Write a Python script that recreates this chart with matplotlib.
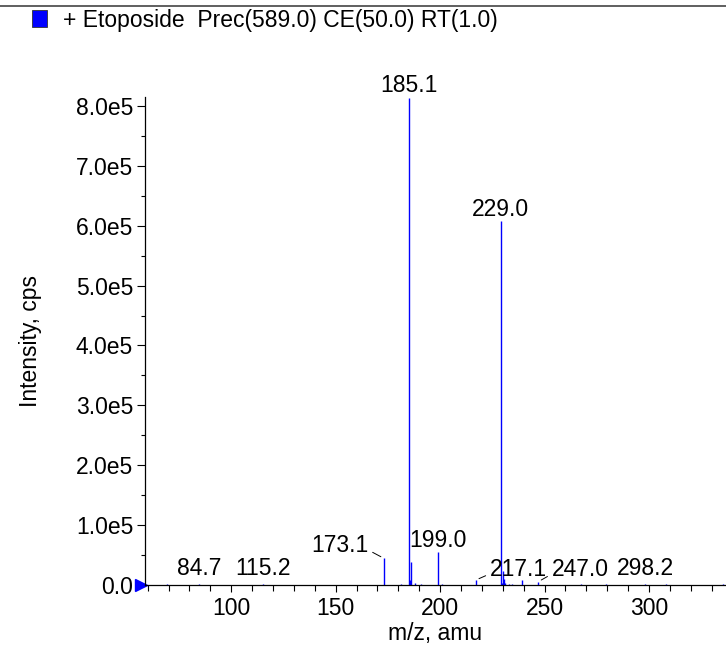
import matplotlib
matplotlib.use("Agg")
import matplotlib.pyplot as plt
from matplotlib.ticker import MultipleLocator, FuncFormatter
from matplotlib.patches import Rectangle
from matplotlib.lines import Line2D
import matplotlib.transforms as mtransforms

plt.rcParams['font.family'] = ['Liberation Sans', 'DejaVu Sans']

# spectrum (m/z, intensity in cps)
mz = [69.3, 84.7, 115.2, 173.1, 181.2, 185.1, 185.6, 186.1, 188.0, 190.8,
      199.0, 201.0, 217.1, 229.0, 229.6, 230.1, 230.6, 231.1, 232.9, 234.4,
      239.1, 247.0, 267.6, 279.6, 298.2, 308.2, 335.5]
intensity = [0.01e5, 0.02e5, 0.02e5, 0.445e5, 0.015e5, 8.14e5, 0.08e5, 0.38e5, 0.04e5, 0.01e5,
             0.545e5, 0.015e5, 0.083e5, 6.08e5, 0.03e5, 0.24e5, 0.10e5, 0.03e5, 0.015e5, 0.015e5,
             0.083e5, 0.055e5, 0.01e5, 0.01e5, 0.02e5, 0.01e5, 0.01e5]

# labelled peaks
label_mz = [84.7, 115.2, 173.1, 185.1, 199.0, 217.1, 229.0, 247.0, 298.2]
label_int = [0.02e5, 0.02e5, 0.445e5, 8.14e5, 0.545e5, 0.083e5, 6.08e5, 0.055e5, 0.02e5]

title = "+ Etoposide  Prec(589.0) CE(50.0) RT(1.0)"

fs = 16.5
fig = plt.figure(figsize=(7.26, 6.47), dpi=100)
ax = fig.add_axes([145/726, 62/647, 581/726, 488/647])

ax.vlines(mz, 0, intensity, color='#0000ff', lw=1.0)

ax.set_xlim(58.7, 336.9)
ax.set_ylim(0, 8.15e5)

for s in ['top', 'right']:
    ax.spines[s].set_visible(False)
for s in ['left', 'bottom']:
    ax.spines[s].set_linewidth(0.9)

ax.xaxis.set_major_locator(MultipleLocator(50))
ax.xaxis.set_minor_locator(MultipleLocator(10))
ax.yaxis.set_major_locator(MultipleLocator(1e5))
ax.yaxis.set_minor_locator(MultipleLocator(0.5e5))
ax.yaxis.set_major_formatter(FuncFormatter(lambda v, p: "0.0" if v == 0 else "%.1fe5" % (v / 1e5)))
ax.tick_params(axis='both', which='major', labelsize=fs, width=0.8)
ax.tick_params(axis='x', which='major', length=5, pad=3.5)
ax.tick_params(axis='x', which='minor', length=4, width=0.8)
ax.tick_params(axis='y', which='major', length=5.5, pad=3)
ax.tick_params(axis='y', which='minor', length=3, width=0.8)

ax.set_xlabel("m/z, amu", fontsize=fs)
ax.set_ylabel("Intensity, cps", fontsize=fs)
ax.xaxis.set_label_coords(0.5, -0.076)
ax.yaxis.set_label_coords(-0.177, 0.5)

# peak labels: (dx, dy) in points from the peak top, alignment, leader line
placement = {
    84.7: (0, 6, 'center', False),
    115.2: (0, 6, 'center', False),
    298.2: (0, 6, 'center', False),
    185.1: (0, 4, 'center', False),
    229.0: (0, 3.5, 'center', False),
    199.0: (0, 4, 'center', False),
    173.1: (-11, 4.5, 'right', True),
    217.1: (10, 3, 'left', True),
    247.0: (9.5, 4, 'left', True),
}
for m, h in zip(label_mz, label_int):
    dx, dy, ha, lead = placement[m]
    if lead:
        ax.annotate("%.1f" % m, xy=(m, h), xytext=(dx, dy), textcoords='offset points',
                    ha=ha, va='baseline', fontsize=fs,
                    arrowprops=dict(arrowstyle='-', color='black', lw=0.7,
                                    shrinkA=1, shrinkB=2.5,
                                    relpos=(1 if ha == 'right' else 0, 0.3)))
    else:
        ax.annotate("%.1f" % m, xy=(m, h), xytext=(dx, dy), textcoords='offset points',
                    ha=ha, va='baseline', fontsize=fs)

# blue origin marker on the y axis
off = mtransforms.ScaledTranslation(-4/100, 0, fig.dpi_scale_trans)
trans = mtransforms.blended_transform_factory(ax.transAxes, ax.transData) + off
ax.plot([0], [0], marker='>', color='#0000ff', markersize=9, transform=trans, clip_on=False)

# header line and legend box
fig.add_artist(Line2D([0, 1], [1 - 6/647, 1 - 6/647], color='#444444', lw=1.2))
fig.add_artist(Rectangle((32/726, 1 - 27/647), 15/726, 17/647, facecolor='#0000ff',
                         edgecolor='#333333', lw=0.6))
fig.text(63/726, 1 - 20/647, title, fontsize=fs, va='center', ha='left')

fig.savefig("out.png", dpi=100)
